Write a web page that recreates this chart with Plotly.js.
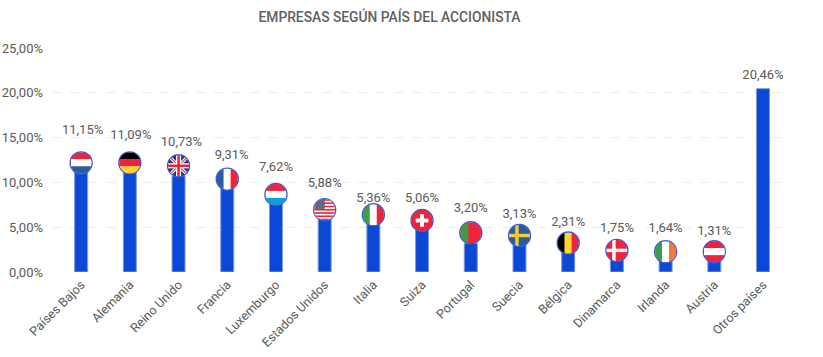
<!DOCTYPE html>
<html><head><meta charset="utf-8">
<script src="https://cdn.plot.ly/plotly-3.0.1.min.js"></script>
<style>html,body{margin:0;padding:0;background:#fff}#c{width:823px;height:357px}</style>
</head><body><div id="c"></div>
<script>
const countries = ['Países Bajos','Alemania','Reino Unido','Francia','Luxemburgo','Estados Unidos','Italia','Suiza','Portugal','Suecia','Bélgica','Dinamarca','Irlanda','Austria','Otros países'];
const values = [11.15,11.09,10.73,9.31,7.62,5.88,5.36,5.06,3.20,3.13,2.31,1.75,1.64,1.31,20.46];
const positions = countries.map((_, i) => i);
const flagLevels = [12.18,12.18,11.85,10.37,8.65,6.95,6.39,5.75,4.38,4.07,3.23,2.41,2.26,2.26];
const labelLevels = [15.8,15.25,14.47,13.02,11.68,9.9,8.17,8.17,7.05,6.44,5.55,4.88,4.88,4.54,21.94];
const labelNudges = [0.03,0.02,0.06,0.09,0,0,0,0,0,0,0,0,0,0,0];
const yTicks = [0,5,10,15,20,25];
const fmt = v => v.toFixed(2).replace('.', ',') + '%';

const R='#f0233c', W='#ffffff', B='#2c5d9b';
const rect=(x,y,w,h,c)=>`<rect x="${x}" y="${y}" width="${w}" height="${h}" fill="${c}"/>`;
const hTri=(a,b,c)=>rect(0,0,100,34,a)+rect(0,33,100,34,b)+rect(0,66,100,34,c);
const vTri=(a,b,c)=>rect(0,0,34,100,a)+rect(33,0,34,100,b)+rect(66,0,34,100,c);
let stripes=''; for(let i=0;i<7;i++) stripes+=rect(0,i*15.4,100,7.7,R);
let stars=''; for(let r=0;r<5;r++) for(let c=0;c<6;c++) if((r+c)%2===0) stars+=rect(4+c*7.5,2+r*8.5,3.4,3.4,'#fff');
const flagArt=[
 hTri(R,W,B),
 hTri('#000000',R,'#ffcf2e'),
 rect(0,0,100,100,'#22386e')+'<path d="M0 0L100 100M100 0L0 100" stroke="#fff" stroke-width="15"/><path d="M0 0L100 100M100 0L0 100" stroke="#e8223c" stroke-width="5"/>'+rect(38,0,24,100,W)+rect(0,38,100,24,W)+rect(44,0,12,100,'#e8223c')+rect(0,44,100,12,'#e8223c'),
 vTri(B,W,R),
 hTri(R,W,'#0a9fe0'),
 rect(0,0,100,100,W)+stripes+rect(0,0,50,46,'#555a70')+stars,
 vTri('#3f9d46',W,R),
 rect(0,0,100,100,R)+rect(41,20,18,60,W)+rect(20,41,60,18,W),
 rect(0,0,100,100,R)+rect(0,0,38,100,'#3f9d46'),
 rect(0,0,100,100,B)+rect(30,0,16,100,'#fdcb2e')+rect(0,42,100,16,'#fdcb2e'),
 vTri('#000000','#fdd32e',R),
 rect(0,0,100,100,R)+rect(28,0,16,100,W)+rect(0,42,100,16,W),
 vTri('#3d9a58',W,'#ee7d38'),
 hTri(R,W,R)
];
const flagUri = art => 'data:image/svg+xml;charset=utf-8,' + encodeURIComponent(
 `<svg xmlns="http://www.w3.org/2000/svg" width="88" height="88" viewBox="0 0 100 100"><defs><clipPath id="k"><circle cx="50" cy="50" r="50"/></clipPath></defs><g clip-path="url(#k)">${art}</g></svg>`);

const font = "Roboto, sans-serif", textCol = '#5a5a5a';
const traces = [
 {type:'bar', x:positions, y:values, width:0.267,
  marker:{color:'#0b48d6', line:{color:'#7f98e6', width:1}}, hoverinfo:'skip'},
 {type:'scatter', mode:'markers', x:positions.slice(0,14), y:flagLevels,
  marker:{size:22, color:'#fff', line:{color:'#3a5bd8', width:1.4}}, hoverinfo:'skip'},
 {type:'scatter', mode:'text', x:positions.map((p,i)=>p+labelNudges[i]), y:labelLevels,
  text:values.map(fmt), textposition:'middle center',
  textfont:{family:font, size:13, color:textCol}, hoverinfo:'skip'}
];
const layout = {
 width:823, height:357, showlegend:false, paper_bgcolor:'#fff', plot_bgcolor:'#fff',
 margin:{l:52, r:40, t:48, b:84.7},
 title:{text:'EMPRESAS SEGÚN PAÍS DEL ACCIONISTA', x:(389.5-52)/731, xanchor:'center', xref:'paper', y:1-17/357, yanchor:'middle',
  font:{family:font, size:13.8, weight:500, color:'#606060'}},
 xaxis:{range:[-0.598,14.41], tickmode:'array', tickvals:positions, ticktext:countries, tickangle:-45,
  tickfont:{family:font, size:12.6, color:textCol}, showgrid:false, zeroline:false, showline:false, ticks:'', ticklabelstandoff:2},
 yaxis:{range:[0,25], tickmode:'array', tickvals:yTicks, ticktext:yTicks.map(fmt),
  tickfont:{family:font, size:13, color:textCol}, gridcolor:'#ededed', griddash:'dash', gridwidth:1, zeroline:false, showline:false, ticks:'', ticklabelstandoff:8},
 images: flagLevels.map((lv,i)=>({source:flagUri(flagArt[i]), xref:'x', yref:'y', x:i, y:lv, sizex:0.435, sizey:2.37, xanchor:'center', yanchor:'middle', sizing:'stretch', layer:'above'}))
};
Plotly.newPlot('c', traces, layout, {displayModeBar:false, staticPlot:true});
</script></body></html>
